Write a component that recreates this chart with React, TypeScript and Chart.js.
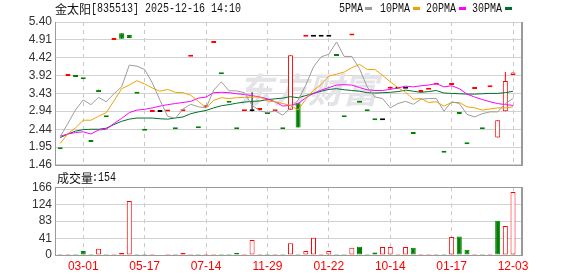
import React, { useEffect, useRef } from 'react';
import { Chart, registerables } from 'chart.js';

Chart.register(...registerables);

// ---------- data ----------
const OPEN = [
  1.89, 3.91, 3.88, 3.82, 2.09, 3.53, 2.77, 4.90, 5.09, 5.04,
  3.42, 2.40, 2.92, 2.92, 2.93, 2.44, 2.94, 4.44, 2.47, 3.05,
  4.82, 3.96, 3.17, 2.44, 2.94, 2.94, 2.97, 2.86, 2.94, 2.44,
  2.98, 3.16, 4.99, 4.99, 4.99, 4.99, 4.46, 2.77, 5.03, 3.17,
  2.94, 2.69, 2.69, 3.56, 3.56, 3.56, 2.31, 3.47, 3.53, 3.67,
  1.79, 3.66, 2.86, 2.03, 3.55, 2.44, 3.60, 2.21, 2.94, 3.94,
];
const CLOSE = [
  1.89, 3.91, 3.88, 3.82, 2.09, 3.47, 2.77, 4.90, 4.94, 4.96,
  3.42, 2.40, 2.92, 2.92, 2.93, 2.44, 2.94, 4.44, 2.47, 3.05,
  4.82, 3.96, 3.17, 2.44, 2.94, 2.94, 2.97, 2.86, 2.94, 2.44,
  4.48, 2.49, 4.99, 4.99, 4.99, 4.99, 4.46, 2.77, 5.03, 3.17,
  2.94, 2.69, 2.69, 3.56, 3.56, 3.56, 2.31, 3.47, 3.53, 3.67,
  1.79, 3.66, 2.86, 2.03, 3.55, 2.44, 3.60, 2.69, 3.77, 4.01,
];
const HIGH = [
  1.89, 3.91, 3.88, 3.82, 2.09, 3.53, 2.77, 4.90, 5.09, 5.04,
  3.42, 2.40, 2.92, 2.92, 2.93, 2.44, 2.94, 4.44, 2.47, 3.05,
  4.82, 3.96, 3.17, 2.44, 2.94, 3.46, 2.97, 2.86, 2.94, 2.44,
  4.48, 3.16, 4.99, 4.99, 4.99, 4.99, 4.46, 2.77, 5.03, 3.17,
  2.94, 2.69, 2.69, 3.56, 3.56, 3.56, 2.31, 3.47, 3.53, 3.67,
  1.79, 3.66, 2.86, 2.03, 3.55, 2.44, 3.60, 2.69, 4.02, 4.01,
];
const LOW = [
  1.89, 3.91, 3.88, 3.82, 2.09, 3.47, 2.77, 4.90, 4.94, 4.96,
  3.42, 2.40, 2.92, 2.92, 2.93, 2.44, 2.94, 4.44, 2.47, 3.05,
  4.82, 3.96, 3.17, 2.44, 2.94, 2.94, 2.97, 2.86, 2.94, 2.44,
  2.98, 2.49, 4.99, 4.99, 4.99, 4.99, 4.46, 2.77, 5.03, 3.17,
  2.94, 2.69, 2.69, 3.56, 3.56, 3.56, 2.31, 3.47, 3.53, 3.67,
  1.79, 3.66, 2.86, 2.03, 3.55, 2.44, 3.60, 2.21, 2.94, 3.94,
];
const VOLUME = [
  2.5, 2.5, 2.5, 10, 2.5, 15, 2.5, 2.5, 5, 132,
  2.5, 2.5, 2.5, 0, 2.5, 2.5, 5, 2.5, 2.5, 2.5,
  2.5, 2.5, 2.5, 5, 2.5, 37, 2.5, 2.5, 2.5, 2.5,
  29, 2.5, 10, 42, 2.5, 10, 2.5, 2.5, 18, 20,
  2.5, 6, 19.5, 19.5, 2.5, 19.5, 18, 2.5, 2.5, 2.5,
  2.5, 44, 45, 13, 2.5, 2.5, 2.5, 84, 71, 154,
];
const MA5 = [
  2.24, 2.60, 2.98, 3.25, 3.12, 3.32, 3.20, 3.42, 3.61, 4.21,
  4.18, 4.09, 3.72, 3.24, 2.80, 2.74, 3.00, 3.13, 3.06, 3.03,
  3.52, 3.75, 3.50, 3.50, 3.45, 3.10, 2.95, 2.90, 2.95, 2.83,
  3.03, 3.24, 3.66, 4.16, 4.44, 4.51, 4.85, 4.45, 4.45, 4.11,
  3.61, 3.33, 3.29, 3.03, 3.15, 3.21, 3.13, 3.27, 3.29, 3.29,
  2.94, 3.20, 3.15, 2.85, 2.78, 2.87, 2.92, 2.92, 3.15, 3.29,
];
const MA10 = [
  2.05, 2.32, 2.48, 2.69, 2.69, 2.80, 2.90, 3.22, 3.56, 3.66,
  3.78, 3.69, 3.58, 3.49, 3.54, 3.46, 3.45, 3.38, 3.21, 3.03,
  3.24, 3.31, 3.29, 3.31, 3.32, 3.33, 3.33, 3.22, 3.20, 3.15,
  3.10, 2.97, 3.27, 3.52, 3.67, 3.91, 3.96, 4.02, 4.14, 4.23,
  4.09, 4.09, 3.93, 3.75, 3.59, 3.46, 3.27, 3.29, 3.18, 3.20,
  3.08, 3.18, 3.18, 3.06, 3.03, 2.97, 3.00, 3.03, 3.03, 3.06,
];
const MA20 = [
  2.25, 2.31, 2.35, 2.37, 2.31, 2.42, 2.44, 2.60, 2.74, 2.90,
  2.97, 2.99, 3.03, 3.08, 3.12, 3.15, 3.18, 3.21, 3.30, 3.33,
  3.45, 3.46, 3.45, 3.42, 3.40, 3.37, 3.33, 3.28, 3.20, 3.08,
  3.10, 3.15, 3.31, 3.43, 3.52, 3.59, 3.66, 3.67, 3.66, 3.59,
  3.53, 3.51, 3.51, 3.54, 3.58, 3.63, 3.61, 3.64, 3.66, 3.70,
  3.61, 3.64, 3.56, 3.41, 3.33, 3.26, 3.20, 3.15, 3.12, 3.10,
];
const MA30 = [
  2.21, 2.31, 2.39, 2.43, 2.44, 2.44, 2.47, 2.57, 2.66, 2.72,
  2.75, 2.75, 2.75, 2.73, 2.72, 2.75, 2.78, 2.87, 2.92, 2.96,
  3.03, 3.09, 3.12, 3.16, 3.19, 3.21, 3.22, 3.26, 3.28, 3.30,
  3.34, 3.31, 3.37, 3.43, 3.49, 3.54, 3.56, 3.53, 3.51, 3.49,
  3.45, 3.44, 3.45, 3.46, 3.48, 3.52, 3.49, 3.46, 3.48, 3.51,
  3.44, 3.43, 3.42, 3.41, 3.41, 3.42, 3.43, 3.43, 3.45, 3.49,
];
const DATE_TICK_INDEX = [3, 11, 19, 27, 35, 43, 51, 59];
const DATE_TICK_LABELS = ['03-01', '05-17', '07-14', '11-29', '01-22', '10-14', '01-17', '12-03'];
const PRICE_TICK_LABELS = ['1.46', '1.95', '2.44', '2.94', '3.43', '3.92', '4.42', '4.91', '5.40'];
const VOLUME_TICK_LABELS = ['0', '41', '83', '124', '166'];
const TITLE_NAME = '金太阳';
const TITLE_REST = '[835513] 2025-12-16 14:10';
const VOLUME_NAME = '成交量';
const VOLUME_LAST = ':154';
const MA_NAMES = ['5PMA', '10PMA', '20PMA', '30PMA'];

// ---------- styles ----------
const X_MIN = -0.55;
const X_MAX = 60.17;
const RED = '#ff0000';
const GREEN = '#008000';
const BLACK = '#000000';
const MA_COLORS = ['#9c9c9c', '#f2a200', '#ff00ff', '#006f2e'];
const GRID_H = '#d2d2d2';
const GRID_V = '#c8c8c8';
const FRAME = '#9a9a9a';

const prevClose = (i: number) => (i > 0 ? CLOSE[i - 1] : null);
const dojiColor = (i: number) => {
  const p = prevClose(i);
  if (p === null) return GREEN;
  return CLOSE[i] > p ? RED : CLOSE[i] < p ? GREEN : BLACK;
};
const bodyFill = (i: number) => (CLOSE[i] > OPEN[i] ? '#ffffff' : CLOSE[i] < OPEN[i] ? GREEN : dojiColor(i));
const bodyStroke = (i: number) => (CLOSE[i] > OPEN[i] ? RED : CLOSE[i] < OPEN[i] ? GREEN : dojiColor(i));
const volUp = (i: number) => {
  const p = prevClose(i);
  return p !== null && CLOSE[i] >= p;
};
const idxOf = (ctx: any) => (ctx.raw && typeof ctx.raw.x === 'number' ? ctx.raw.x : ctx.dataIndex);

const framePlugin = (topColor: string) => ({
  id: 'frame',
  beforeDatasetsDraw(chart: any) {
    const { ctx, chartArea: a } = chart;
    const l = Math.round(a.left), t = Math.round(a.top), r = Math.round(a.right), b = Math.round(a.bottom);
    ctx.save();
    ctx.fillStyle = topColor;
    ctx.fillRect(l - 1, t, r - l + 1, 1);
    ctx.fillStyle = FRAME;
    ctx.fillRect(l - 1, t, 1, b - t + 1);
    ctx.fillRect(l - 1, b, r - l + 1, 1);
    ctx.fillRect(r - 1, t, 2, b - t + 1);
    ctx.restore();
  },
});

const watermarkPlugin = {
  id: 'watermark',
  beforeDatasetsDraw(chart: any) {
    const { ctx, chartArea: a } = chart;
    ctx.save();
    ctx.font = 'italic bold 35px "Noto Sans CJK SC", sans-serif';
    ctx.fillStyle = '#e4e4e8';
    ctx.textBaseline = 'middle';
    ctx.textAlign = 'left';
    ctx.fillText('东方财富', a.left + (a.right - a.left) * 0.39, a.top + (a.bottom - a.top) * 0.475);
    ctx.restore();
  },
};

const xScaleBase = (showLabels: boolean) => ({
  type: 'linear' as const,
  min: X_MIN,
  max: X_MAX,
  offset: false,
  afterBuildTicks: (s: any) => {
    s.ticks = DATE_TICK_INDEX.map((v) => ({ value: v }));
  },
  ticks: {
    display: showLabels,
    autoSkip: false,
    maxRotation: 0,
    padding: 4,
    color: RED,
    font: { family: '"Liberation Sans", Arial, sans-serif', size: 12 },
    callback: (_v: any, i: number) => DATE_TICK_LABELS[i],
  },
  grid: { color: GRID_V, lineWidth: 1, drawTicks: false, offset: false },
  border: { display: false, dash: [4, 4] },
  afterFit: (s: any) => {
    s.height = showLabels ? 21 : 0;
  },
});

const yTickFont = { family: '"Liberation Sans", Arial, sans-serif', size: 12 };

const mono = (left: number, top: number): React.CSSProperties => ({
  position: 'absolute',
  left,
  top,
  font: '12px "Liberation Mono", monospace',
  lineHeight: '14px',
  transform: 'scaleX(0.833)',
  transformOrigin: '0 50%',
  whiteSpace: 'nowrap',
  color: '#111',
});
const cjk = (left: number, top: number): React.CSSProperties => ({
  position: 'absolute',
  left,
  top,
  font: '12px "Noto Sans CJK SC", sans-serif',
  lineHeight: '14px',
  whiteSpace: 'nowrap',
  color: '#111',
});

export default function App() {
  const mainRef = useRef<HTMLCanvasElement | null>(null);
  const volRef = useRef<HTMLCanvasElement | null>(null);

  useEffect(() => {
    if (!mainRef.current || !volRef.current) return;

    const lineDs = (label: string, data: number[], color: string) => ({
      type: 'line' as const,
      label,
      data: data.map((y, x) => ({ x, y })),
      borderColor: color,
      backgroundColor: color,
      borderWidth: 1,
      pointRadius: 0,
      pointHoverRadius: 0,
      tension: 0,
      fill: false,
      order: 0,
    });

    const wickData = HIGH.map((h, x) => ({ x, h, l: LOW[x] }))
      .filter((d) => d.h > d.l)
      .map((d) => ({ x: d.x, y: [d.l, d.h] }));

    const main = new Chart(mainRef.current, {
      type: 'bar',
      data: {
        datasets: [
          lineDs(MA_NAMES[0], MA5, MA_COLORS[0]),
          lineDs(MA_NAMES[1], MA10, MA_COLORS[1]),
          lineDs(MA_NAMES[2], MA20, MA_COLORS[2]),
          lineDs(MA_NAMES[3], MA30, MA_COLORS[3]),
          {
            type: 'bar',
            label: 'body',
            data: OPEN.map((o, x) => ({ x, y: [Math.min(o, CLOSE[x]), Math.max(o, CLOSE[x])] })),
            backgroundColor: (ctx: any) => bodyFill(idxOf(ctx)),
            borderColor: (ctx: any) => bodyStroke(idxOf(ctx)),
            borderWidth: 1,
            borderSkipped: false,
            minBarLength: 2,
            grouped: false,
            barPercentage: 0.9,
            categoryPercentage: 1,
            maxBarThickness: 5,
            order: 1,
          } as any,
          {
            type: 'bar',
            label: 'wick',
            data: wickData,
            backgroundColor: (ctx: any) => bodyStroke(idxOf(ctx)),
            borderWidth: 0,
            grouped: false,
            barPercentage: 0.9,
            categoryPercentage: 1,
            maxBarThickness: 1,
            order: 2,
          } as any,
        ],
      },
      options: {
        animation: false,
        responsive: false,
        maintainAspectRatio: false,
        events: [],
        layout: { padding: { left: 0, right: 56, top: 22, bottom: 11 } },
        plugins: { legend: { display: false }, tooltip: { enabled: false }, title: { display: false } },
        scales: {
          x: xScaleBase(false) as any,
          y: {
            type: 'linear',
            min: 1.46,
            max: 5.4,
            afterBuildTicks: (s: any) => {
              s.ticks = PRICE_TICK_LABELS.map((l) => ({ value: parseFloat(l) }));
            },
            ticks: {
              autoSkip: false,
              padding: 4,
              color: '#333',
              font: yTickFont,
              callback: (_v: any, i: number) => PRICE_TICK_LABELS[i],
            },
            grid: { color: GRID_H, lineWidth: 1, drawTicks: false },
            border: { display: false },
            afterFit: (s: any) => {
              s.width = 56;
            },
          } as any,
        },
      },
      plugins: [framePlugin(GRID_H), watermarkPlugin],
    });

    const vol = new Chart(volRef.current, {
      type: 'bar',
      data: {
        datasets: [
          {
            label: 'volume',
            data: VOLUME.map((y, x) => ({ x, y })),
            backgroundColor: (ctx: any) => (volUp(idxOf(ctx)) ? '#ffffff' : GREEN),
            borderColor: (ctx: any) => (volUp(idxOf(ctx)) ? RED : GREEN),
            borderWidth: 1,
            borderSkipped: false,
            grouped: false,
            barPercentage: 0.9,
            categoryPercentage: 1,
            maxBarThickness: 5,
          } as any,
        ],
      },
      options: {
        animation: false,
        responsive: false,
        maintainAspectRatio: false,
        events: [],
        layout: { padding: { left: 0, right: 56, top: 11, bottom: 0 } },
        plugins: { legend: { display: false }, tooltip: { enabled: false } },
        scales: {
          x: xScaleBase(true) as any,
          y: {
            type: 'linear',
            min: 0,
            max: 166,
            afterBuildTicks: (s: any) => {
              s.ticks = VOLUME_TICK_LABELS.map((l) => ({ value: parseFloat(l) }));
            },
            ticks: {
              autoSkip: false,
              padding: 4,
              color: '#333',
              font: yTickFont,
              callback: (_v: any, i: number) => VOLUME_TICK_LABELS[i],
            },
            grid: { color: GRID_H, lineWidth: 1, drawTicks: false },
            border: { display: false },
            afterFit: (s: any) => {
              s.width = 56;
            },
          } as any,
        },
      },
      plugins: [framePlugin(FRAME)],
    });

    return () => {
      main.destroy();
      vol.destroy();
    };
  }, []);

  const legendX = [339, 380, 426, 472];
  const markerX = [365, 413, 459, 505];

  return (
    <div style={{ position: 'fixed', left: 0, top: 0, width: 578, height: 276, background: '#fff', overflow: 'hidden' }}>
      <canvas ref={mainRef} width={578} height={176} style={{ position: 'absolute', left: 0, top: 0, width: 578, height: 176 }} />
      <canvas ref={volRef} width={578} height={100} style={{ position: 'absolute', left: 0, top: 176, width: 578, height: 100 }} />
      <div style={cjk(55, 2)}>{TITLE_NAME}</div>
      <div style={mono(91, 2)}>{TITLE_REST}</div>
      {MA_NAMES.map((n, i) => (
        <React.Fragment key={n}>
          <div style={mono(legendX[i], 2)}>{n}</div>
          <div style={{ position: 'absolute', left: markerX[i], top: 7, width: 7, height: 3, background: MA_COLORS[i] }} />
        </React.Fragment>
      ))}
      <div style={cjk(57, 171)}>{VOLUME_NAME}</div>
      <div style={mono(92, 171)}>{VOLUME_LAST}</div>
    </div>
  );
}
